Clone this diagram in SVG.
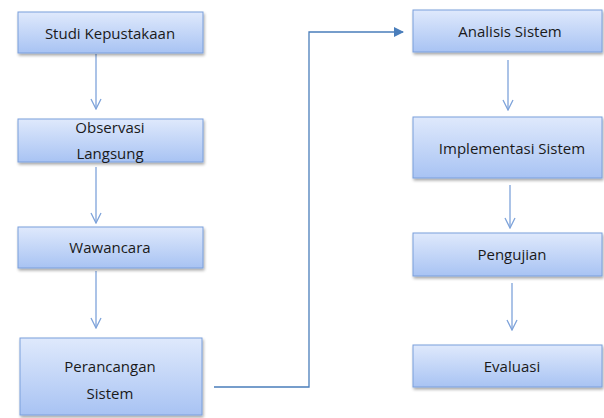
<svg xmlns="http://www.w3.org/2000/svg" width="604" height="418" viewBox="0 0 604 418">
<defs>
<linearGradient id="g" x1="0" y1="0" x2="0" y2="1">
<stop offset="0" stop-color="#dfe9fc"/>
<stop offset="1" stop-color="#a8c3f3"/>
</linearGradient>
<filter id="sh" x="-10%" y="-20%" width="125%" height="150%">
<feGaussianBlur in="SourceAlpha" stdDeviation="1.5"/>
<feOffset dx="1" dy="2"/>
<feComponentTransfer><feFuncA type="linear" slope="0.35"/></feComponentTransfer>
<feMerge><feMergeNode/><feMergeNode in="SourceGraphic"/></feMerge>
</filter>
<marker id="open" viewBox="0 0 12 12" refX="11" refY="6" markerWidth="12" markerHeight="12" markerUnits="userSpaceOnUse" orient="auto">
<path d="M1,1 L11,6 L1,11" fill="none" stroke="#7ea3da" stroke-width="1.3"/>
</marker>
<marker id="solid" viewBox="0 0 10 10" refX="9" refY="5" markerWidth="10" markerHeight="10" markerUnits="userSpaceOnUse" orient="auto">
<path d="M0,0 L10,5 L0,10 z" fill="#4a7ebb"/>
</marker>
</defs>
<style>
.box{fill:url(#g);stroke:#7b9fdb;stroke-width:1;filter:url(#sh)}
.t{font-family:"Open Sans","Liberation Sans",sans-serif;font-size:15px;fill:#1a1a1a;text-anchor:middle;dominant-baseline:central}
.a{fill:none;stroke:#7ea3da;stroke-width:1.3;marker-end:url(#open)}
.c{fill:none;stroke:#4a7ebb;stroke-width:1.3;marker-end:url(#solid)}
</style>
<rect width="604" height="418" fill="#ffffff"/>
<g id="connectors">
<line class="a" x1="96" y1="54" x2="96" y2="109"/>
<line class="a" x1="96" y1="167" x2="96" y2="223"/>
<line class="a" x1="96" y1="271" x2="96" y2="328"/>
<path class="c" d="M214,387 H309 V32 H403"/>
<line class="a" x1="508" y1="60" x2="508" y2="110"/>
<line class="a" x1="510" y1="185" x2="510" y2="228"/>
<line class="a" x1="512" y1="283" x2="512" y2="330"/>
</g>
<g id="n1"><rect class="box" x="18" y="12" width="185" height="41"/><text class="t" x="110" y="33">Studi Kepustakaan</text></g>
<g id="n2"><rect class="box" x="18" y="119" width="185" height="43"/><text class="t" x="110" y="127">Observasi</text><text class="t" x="110" y="153">Langsung</text></g>
<g id="n3"><rect class="box" x="18" y="227" width="185" height="41"/><text class="t" x="110" y="247">Wawancara</text></g>
<g id="n4"><rect class="box" x="20" y="338" width="182" height="77"/><text class="t" x="110" y="366">Perancangan</text><text class="t" x="110" y="393">Sistem</text></g>
<g id="n5"><rect class="box" x="413" y="10" width="189" height="42"/><text class="t" x="510" y="31">Analisis Sistem</text></g>
<g id="n6"><rect class="box" x="413" y="117" width="189" height="61"/><text class="t" x="512" y="148">Implementasi Sistem</text></g>
<g id="n7"><rect class="box" x="413" y="233" width="189" height="43"/><text class="t" x="512" y="254">Pengujian</text></g>
<g id="n8"><rect class="box" x="413" y="345" width="189" height="42"/><text class="t" x="512" y="366">Evaluasi</text></g>
</svg>
